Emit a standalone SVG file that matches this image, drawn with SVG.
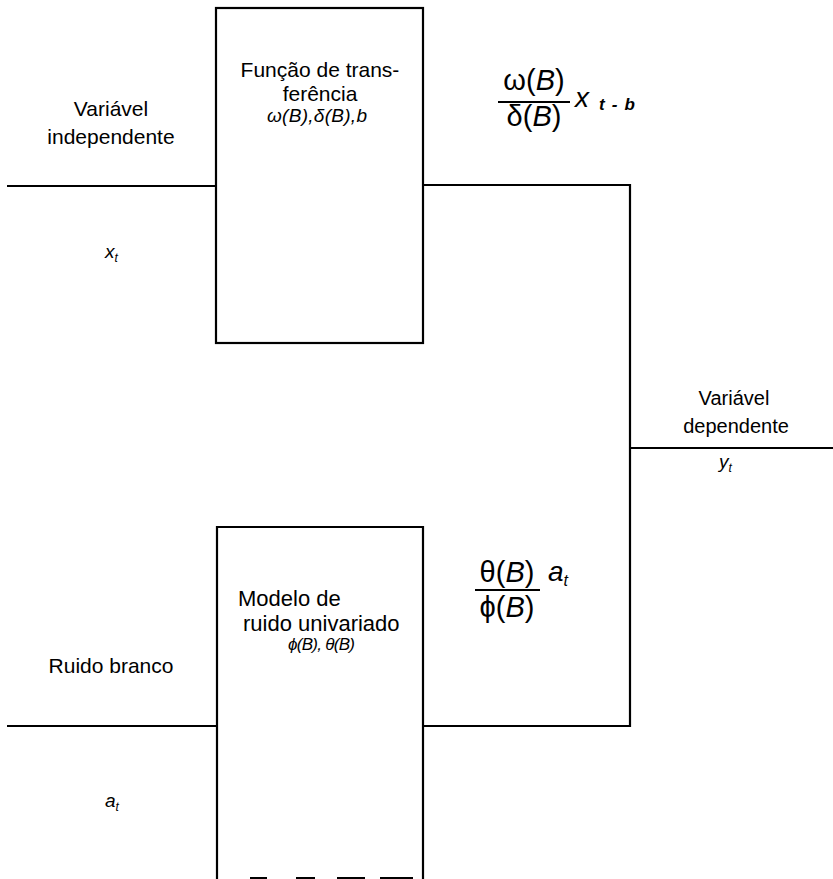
<svg xmlns="http://www.w3.org/2000/svg" width="833" height="879" viewBox="0 0 833 879">
<style>
  .box { fill: #fff; stroke: #000; stroke-width: 2.2; }
  .ln { fill: none; stroke: #000; stroke-width: 2.2; }
  text { font-family: "Liberation Sans", Arial, sans-serif; fill: #000; }
  .lbl { font-size: 21px; }
  .c { text-anchor: middle; }
  .it { font-style: italic; }
  .frac { font-size: 29px; }
</style>
<rect width="833" height="879" fill="#fff"/>
<g id="connectors">
  <line class="ln" x1="7" y1="186" x2="216" y2="186"/>
  <polyline class="ln" points="423,185 630,185 630,726 423,726"/>
  <line class="ln" x1="630" y1="448" x2="833" y2="448"/>
  <line class="ln" x1="7" y1="726" x2="217" y2="726"/>
  <line class="ln" x1="498" y1="102" x2="570" y2="102"/>
  <line class="ln" x1="475" y1="590" x2="540" y2="590"/>
</g>
<g id="input-x">
  <text class="lbl c" x="111" y="116">Variável</text>
  <text class="lbl c" x="111" y="144">independente</text>
  <text class="it" x="105" y="258" font-size="19">x<tspan font-size="12" dy="4">t</tspan></text>
</g>
<g id="input-a">
  <text class="lbl c" x="111" y="673">Ruido branco</text>
  <text class="it" x="105" y="807" font-size="19">a<tspan font-size="12" dy="4">t</tspan></text>
</g>
<g id="transfer-function">
  <rect class="box" x="216" y="8" width="207" height="335"/>
  <text class="lbl c" x="320" y="77">Função de trans-</text>
  <text class="lbl c" x="320" y="101">ferência</text>
  <text class="it" x="267" y="122" font-size="19" textLength="100">ω(B),δ(B),b</text>
</g>
<g id="noise-model">
  <path class="ln" d="M217,879 V527 H423 V879"/>
  <path class="ln" d="M250,878 H267 M296,878 H315 M337,878 H365 M380,878 H413"/>
  <text x="238" y="606" font-size="22">Modelo de</text>
  <text x="243" y="631" font-size="22">ruido univariado</text>
  <text class="it" x="288" y="650" font-size="17" textLength="67">ϕ(B), θ(B)</text>
</g>
<g id="output-y">
  <text class="c" x="734" y="405" font-size="20">Variável</text>
  <text class="c" x="736" y="433" font-size="20">dependente</text>
  <text class="it" x="719" y="468" font-size="19">y<tspan font-size="12" dy="4">t</tspan></text>
</g>
<g id="formula-top">
  <text class="frac c" x="534" y="90">ω(<tspan class="it">B</tspan>)</text>
  <text class="frac c" x="534" y="126">δ(<tspan class="it">B</tspan>)</text>
  <text class="it" x="575" y="107" font-size="28">x</text>
  <text class="it" x="599" y="110" font-size="17" font-weight="bold" textLength="36">t - b</text>
</g>
<g id="formula-bottom">
  <text class="frac c" x="507" y="582">θ(<tspan class="it">B</tspan>)</text>
  <text class="frac c" x="507" y="617">ϕ(<tspan class="it">B</tspan>)</text>
  <text class="it" x="548" y="581" font-size="28">a<tspan font-size="16" dy="5">t</tspan></text>
</g>
</svg>
